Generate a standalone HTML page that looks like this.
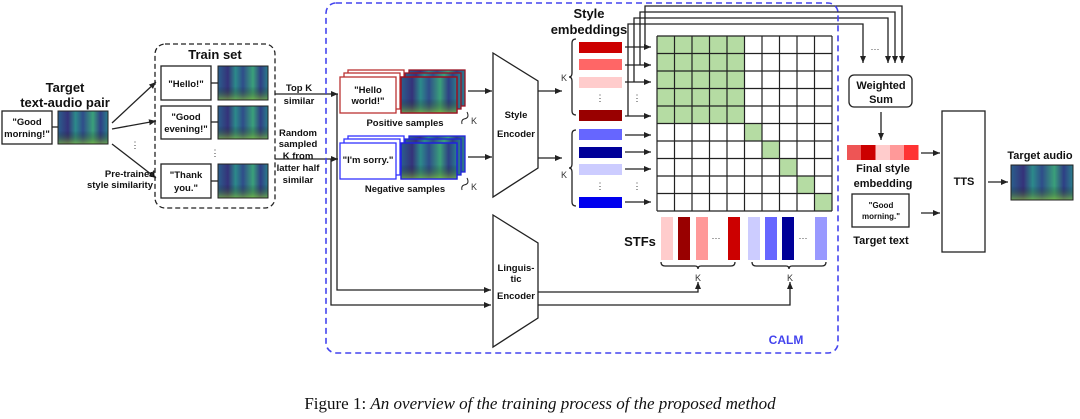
<!DOCTYPE html>
<html><head><meta charset="utf-8"><style>
body{margin:0;background:#fff}
svg{display:block;font-family:"Liberation Sans",sans-serif}
.b{font-weight:bold}
</style></head><body>
<svg width="1080" height="419" viewBox="0 0 1080 419" xmlns="http://www.w3.org/2000/svg">
<defs>
<marker id="a" markerWidth="8" markerHeight="8" refX="7" refY="4" orient="auto" markerUnits="userSpaceOnUse"><path d="M0,1 L7,4 L0,7z" fill="#222"/></marker>
<linearGradient id="sp" x1="0" x2="1" y1="0" y2="0">
<stop offset="0" stop-color="#2a5f8c"/><stop offset="0.2" stop-color="#35327a"/><stop offset="0.35" stop-color="#2c8a8a"/><stop offset="0.5" stop-color="#2f4d8a"/><stop offset="0.7" stop-color="#3aa07a"/><stop offset="0.85" stop-color="#2f3f85"/><stop offset="1" stop-color="#2b7f8c"/></linearGradient>
<linearGradient id="spv" x1="0" x2="0" y1="0" y2="1"><stop offset="0" stop-color="#000" stop-opacity="0"/><stop offset="0.6" stop-color="#000" stop-opacity="0"/><stop offset="1" stop-color="#9c3" stop-opacity="0.6"/></linearGradient>
</defs>
<g stroke="#222" stroke-width="1.3" fill="none">
<!-- target pair -->
<rect x="2" y="111" width="50" height="33" fill="#fff"/>
<line x1="52" y1="127" x2="58" y2="127"/>
<!-- train set -->
<rect x="155" y="44" width="120" height="164" rx="10" stroke-dasharray="5,3"/>
<rect x="161" y="66" width="50" height="34"/><rect x="161" y="106" width="50" height="33"/><rect x="161" y="164" width="50" height="34"/>
<line x1="211" y1="83" x2="218" y2="83"/><line x1="211" y1="122" x2="218" y2="122"/><line x1="211" y1="181" x2="218" y2="181"/>
<line x1="112" y1="123" x2="156" y2="82" marker-end="url(#a)"/>
<line x1="112" y1="129" x2="156" y2="121" marker-end="url(#a)"/>
<line x1="112" y1="144" x2="156" y2="178" marker-end="url(#a)"/>
<!-- train -> samples -->
<polyline points="275,94 338,94" marker-end="url(#a)"/>
<polyline points="275,159 338,159" marker-end="url(#a)"/>
<polyline points="337,94 337,290 491,290" marker-end="url(#a)"/>
<polyline points="331,159 331,305 491,305" marker-end="url(#a)"/>
<!-- encoders -->
<polygon points="493,53 538,81 538,168 493,197" fill="#fff"/>
<polygon points="493,215 538,243 538,318 493,347" fill="#fff"/>
<line x1="468" y1="91" x2="492" y2="91" marker-end="url(#a)"/>
<line x1="468" y1="157" x2="492" y2="157" marker-end="url(#a)"/>
<line x1="538" y1="91" x2="562" y2="91" marker-end="url(#a)"/>
<line x1="538" y1="158" x2="562" y2="158" marker-end="url(#a)"/>
<polyline points="538,292 698,292 698,282" marker-end="url(#a)"/>
<polyline points="538,305 790,305 790,282" marker-end="url(#a)"/>
<!-- braces -->
<path d="M576,39 q-4,0 -4,4 v30 q0,4 -3,4 q3,0 3,4 v30 q0,4 4,4"/>
<path d="M576,130 q-4,0 -4,4 v30 q0,4 -3,4 q3,0 3,4 v30 q0,4 4,4"/>
<path d="M661,262 q0,4 4,4 h30 q3,0 3,3 q0,-3 3,-3 h30 q4,0 4,-4"/>
<path d="M752,262 q0,4 4,4 h30 q3,0 3,3 q0,-3 3,-3 h30 q4,0 4,-4"/>
<!-- embed arrows -->
<line x1="625" y1="47" x2="651" y2="47" marker-end="url(#a)"/>
<line x1="625" y1="65" x2="651" y2="65" marker-end="url(#a)"/>
<line x1="625" y1="82" x2="651" y2="82" marker-end="url(#a)"/>
<line x1="625" y1="116" x2="651" y2="116" marker-end="url(#a)"/>
<line x1="625" y1="135" x2="651" y2="135" marker-end="url(#a)"/>
<line x1="625" y1="152" x2="651" y2="152" marker-end="url(#a)"/>
<line x1="625" y1="169" x2="651" y2="169" marker-end="url(#a)"/>
<line x1="625" y1="202" x2="651" y2="202" marker-end="url(#a)"/>
<polyline points="645,47 645,6 902,6 902,63" marker-end="url(#a)"/>
<polyline points="640,65 640,12 895,12 895,63" marker-end="url(#a)"/>
<polyline points="634,82 634,18 888,18 888,63" marker-end="url(#a)"/>
<polyline points="628,116 628,24 863,24 863,63" marker-end="url(#a)"/>
<!-- right -->
<rect x="849" y="75" width="63" height="32" rx="5"/>
<line x1="881" y1="112" x2="881" y2="140" marker-end="url(#a)"/>
<rect x="852" y="194" width="57" height="33"/>
<line x1="921" y1="153" x2="940" y2="153" marker-end="url(#a)"/>
<line x1="921" y1="213" x2="940" y2="213" marker-end="url(#a)"/>
<rect x="942" y="111" width="43" height="141"/>
<line x1="988" y1="182" x2="1008" y2="182" marker-end="url(#a)"/>
</g>
<!-- spectrograms -->
<g stroke="#222" stroke-width="1">
<rect x="58" y="111" width="50" height="33" fill="url(#sp)"/><rect x="58" y="111" width="50" height="33" fill="url(#spv)"/>
<rect x="218" y="66" width="50" height="34" fill="url(#sp)"/><rect x="218" y="66" width="50" height="34" fill="url(#spv)"/>
<rect x="218" y="106" width="50" height="33" fill="url(#sp)"/><rect x="218" y="106" width="50" height="33" fill="url(#spv)"/>
<rect x="218" y="164" width="50" height="34" fill="url(#sp)"/><rect x="218" y="164" width="50" height="34" fill="url(#spv)"/>
<rect x="1011" y="165" width="62" height="35" fill="url(#sp)"/><rect x="1011" y="165" width="62" height="35" fill="url(#spv)"/>
</g>
<!-- positive/negative stacks -->
<g fill="#fff" stroke-width="1.3">
<rect x="348" y="70" width="56" height="36" stroke="#b33"/><rect x="344" y="73" width="56" height="36" stroke="#b33"/><rect x="340" y="77" width="56" height="36" stroke="#b33"/>
<rect x="348" y="136" width="56" height="36" stroke="#33f"/><rect x="344" y="139" width="56" height="36" stroke="#33f"/><rect x="340" y="143" width="56" height="36" stroke="#33f"/>
</g>
<g stroke-width="1.3">
<rect x="409" y="70" width="56" height="36" fill="url(#sp)" stroke="#912"/><rect x="405" y="73" width="56" height="36" fill="url(#sp)" stroke="#912"/><rect x="401" y="77" width="56" height="36" fill="url(#sp)" stroke="#912"/><rect x="401" y="77" width="56" height="36" fill="url(#spv)" stroke="#912"/>
<rect x="409" y="136" width="56" height="36" fill="url(#sp)" stroke="#22d"/><rect x="405" y="139" width="56" height="36" fill="url(#sp)" stroke="#22d"/><rect x="401" y="143" width="56" height="36" fill="url(#sp)" stroke="#22d"/><rect x="401" y="143" width="56" height="36" fill="url(#spv)" stroke="#22d"/>
</g>
<!-- CALM box -->
<rect x="326" y="3" width="512" height="350" rx="10" fill="none" stroke="#44e" stroke-width="1.6" stroke-dasharray="6,4"/>
<!-- grid -->
<g>
<rect x="657" y="36" width="87.5" height="87.5" fill="#b5dca3"/>
<rect x="744.5" y="123.5" width="17.5" height="17.5" fill="#b5dca3"/>
<rect x="762" y="141" width="17.5" height="17.5" fill="#b5dca3"/>
<rect x="779.5" y="158.5" width="17.5" height="17.5" fill="#b5dca3"/>
<rect x="797" y="176" width="17.5" height="17.5" fill="#b5dca3"/>
<rect x="814.5" y="193.5" width="17.5" height="17.5" fill="#b5dca3"/>
<path stroke="#222" stroke-width="1.2" fill="none" d="M657,36V211M674.5,36V211M692,36V211M709.5,36V211M727,36V211M744.5,36V211M762,36V211M779.5,36V211M797,36V211M814.5,36V211M832,36V211M657,36H832M657,53.5H832M657,71H832M657,88.5H832M657,106H832M657,123.5H832M657,141H832M657,158.5H832M657,176H832M657,193.5H832M657,211H832"/>
</g>
<!-- embedding bars -->
<rect x="579" y="42" width="43" height="11" fill="#cc0000"/>
<rect x="579" y="59" width="43" height="11" fill="#ff6666"/>
<rect x="579" y="77" width="43" height="11" fill="#ffcccc"/>
<rect x="579" y="110" width="43" height="11" fill="#990000"/>
<rect x="579" y="129" width="43" height="11" fill="#6666ff"/>
<rect x="579" y="147" width="43" height="11" fill="#000099"/>
<rect x="579" y="164" width="43" height="11" fill="#ccccff"/>
<rect x="579" y="197" width="43" height="11" fill="#0000ee"/>
<!-- STFs -->
<rect x="661" y="217" width="12" height="43" fill="#ffcccc"/>
<rect x="678" y="217" width="12" height="43" fill="#990000"/>
<rect x="696" y="217" width="12" height="43" fill="#ff9999"/>
<rect x="728" y="217" width="12" height="43" fill="#cc0000"/>
<rect x="748" y="217" width="12" height="43" fill="#ccccff"/>
<rect x="765" y="217" width="12" height="43" fill="#6666ff"/>
<rect x="782" y="217" width="12" height="43" fill="#000099"/>
<rect x="815" y="217" width="12" height="43" fill="#9999ff"/>
<!-- final style -->
<rect x="847" y="145" width="14.5" height="15" fill="#ee5555"/><rect x="861" y="145" width="14.5" height="15" fill="#cc0000"/><rect x="875.5" y="145" width="14.5" height="15" fill="#ffcccc"/><rect x="890" y="145" width="14.5" height="15" fill="#ff9999"/><rect x="904" y="145" width="14.5" height="15" fill="#ff3333"/>
<!-- texts -->
<g class="b" font-size="10.5" text-anchor="middle" fill="#111">
<text x="65" y="92" font-size="13">Target</text><text x="65" y="107" font-size="13">text-audio pair</text>
<text x="27" y="125" font-size="9.5">"Good</text><text x="27" y="137" font-size="9.5">morning!"</text>
<text x="215" y="59" font-size="13">Train set</text>
<text x="186" y="87" font-size="9.5">"Hello!"</text>
<text x="186" y="120" font-size="9.5">"Good</text><text x="186" y="132" font-size="9.5">evening!"</text>
<text x="186" y="178" font-size="9.5">"Thank</text><text x="186" y="191" font-size="9.5">you."</text>
<text x="130" y="177" font-size="9.5">Pre-trained</text><text x="120" y="188" font-size="9.5">style similarity</text>
<text x="299" y="91" font-size="9.5">Top K</text><text x="299" y="104" font-size="9.5">similar</text>
<text x="298" y="136" font-size="9.5">Random</text><text x="298" y="147" font-size="9.5">sampled</text><text x="298" y="159" font-size="9.5">K from</text><text x="298" y="171" font-size="9.5">latter half</text><text x="298" y="183" font-size="9.5">similar</text>
<text x="368" y="93" font-size="9.5">"Hello</text><text x="368" y="104" font-size="9.5">world!"</text>
<text x="368" y="163" font-size="9.5">"I'm sorry."</text>
<text x="405" y="126" font-size="9.5">Positive samples</text>
<text x="405" y="192" font-size="9.5">Negative samples</text>
<text x="516" y="118" font-size="9.5">Style</text><text x="516" y="137" font-size="9.5">Encoder</text>
<text x="516" y="271" font-size="9.5">Linguis-</text><text x="516" y="282" font-size="9.5">tic</text><text x="516" y="299" font-size="9.5">Encoder</text>
<text x="589" y="18" font-size="13">Style</text><text x="589" y="34" font-size="13">embeddings</text>
<text x="640" y="246" font-size="13">STFs</text>
<text x="786" y="344" font-size="12" fill="#44e">CALM</text>
<text x="881" y="89" font-size="11">Weighted</text><text x="881" y="103" font-size="11">Sum</text>
<text x="883" y="172" font-size="11">Final style</text><text x="883" y="187" font-size="11">embedding</text>
<text x="881" y="208" font-size="8">"Good</text><text x="881" y="219" font-size="8">morning."</text>
<text x="881" y="244" font-size="11">Target text</text>
<text x="964" y="185" font-size="11">TTS</text>
<text x="1040" y="159" font-size="11">Target audio</text>
</g>
<g font-size="9" fill="#333" text-anchor="middle">
<text x="564" y="81">K</text><text x="564" y="178">K</text>
<text x="474" y="124">K</text><text x="474" y="190">K</text>
<text x="698" y="281">K</text><text x="790" y="281">K</text>
<text x="600" y="101">⋮</text><text x="600" y="189">⋮</text>
<text x="637" y="101">⋮</text><text x="637" y="189">⋮</text>
<text x="716" y="241">···</text><text x="803" y="241">···</text>
<text x="875" y="52">···</text>
<text x="135" y="148">⋮</text><text x="215" y="156">⋮</text>
</g>
<path d="M467,112 q3,6 -3,7 q-3,1 -2,5" fill="none" stroke="#222"/>
<path d="M467,178 q3,6 -3,7 q-3,1 -2,5" fill="none" stroke="#222"/>
<text x="540" y="409" text-anchor="middle" font-family="Liberation Serif,serif" font-size="17" fill="#111">Figure 1: <tspan font-style="italic">An overview of the training process of the proposed method</tspan></text>
</svg>
</body></html>
